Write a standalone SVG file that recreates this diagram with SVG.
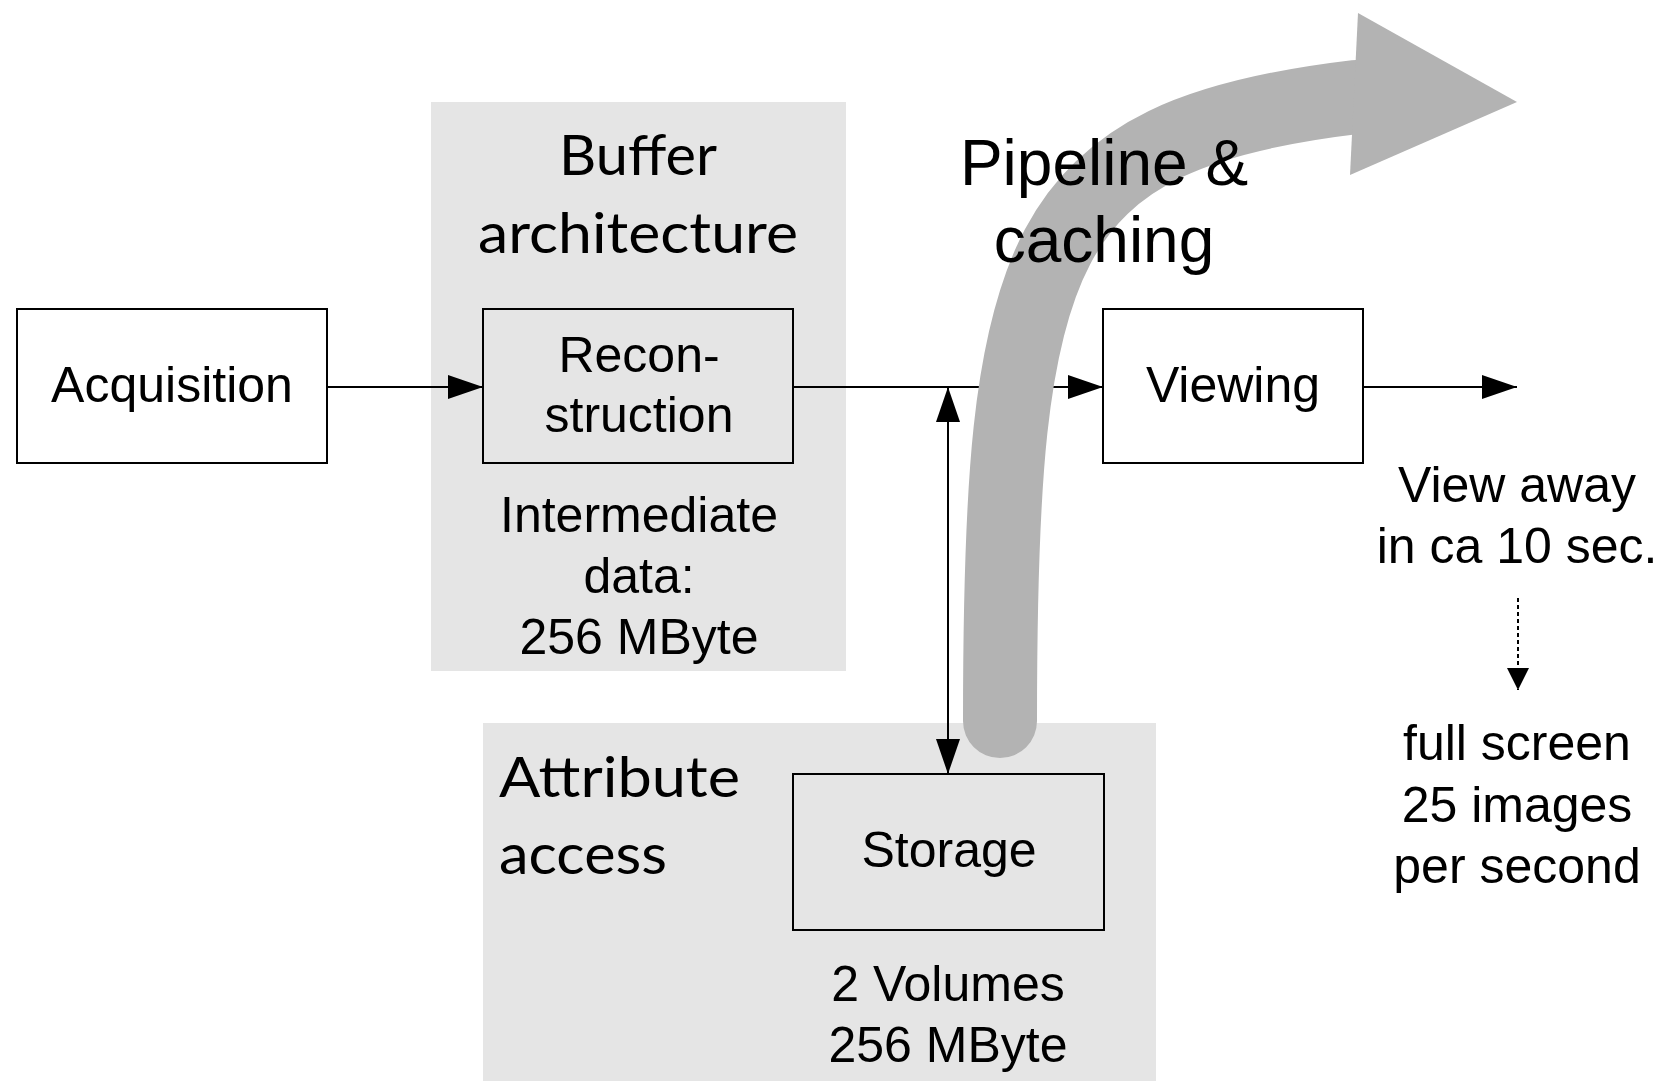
<svg xmlns="http://www.w3.org/2000/svg" width="1664" height="1081" viewBox="0 0 1664 1081">
  <defs>
    <style>
      .bg { fill: #e5e5e5; stroke: none; }
      .box { fill: #ffffff; stroke: #000000; stroke-width: 2; }
      .boxg { fill: #e5e5e5; stroke: #000000; stroke-width: 2; }
      .t { font-family: "Liberation Sans", Arial, sans-serif; font-size: 50px; fill: #000000; text-anchor: middle; }
      .c { font-family: Lato, "Open Sans", sans-serif; font-size: 56px; fill: #000000; }
      .big { font-family: "Liberation Sans", Arial, sans-serif; font-size: 64px; fill: #000000; text-anchor: middle; }
      .conn { stroke: #000000; stroke-width: 2; fill: none; }
    </style>
    <marker id="ah" markerUnits="userSpaceOnUse" markerWidth="36" markerHeight="26" refX="35" refY="12" orient="auto-start-reverse" viewBox="0 0 36 24">
      <path d="M0,0 L35,12 L0,24 Z" fill="#000000"/>
    </marker>
    <marker id="ahs" markerUnits="userSpaceOnUse" markerWidth="24" markerHeight="24" refX="22" refY="11" orient="auto" viewBox="0 0 24 22">
      <path d="M0,0 L22,11 L0,22 Z" fill="#000000"/>
    </marker>
  </defs>

  <g id="buffer-architecture">
    <rect class="bg" x="431" y="102" width="415" height="569"/>
    <text class="c" x="638" y="175" text-anchor="middle" textLength="158" lengthAdjust="spacingAndGlyphs">Buffer</text>
    <text class="c" x="638" y="253" text-anchor="middle" textLength="320" lengthAdjust="spacingAndGlyphs">architecture</text>
  </g>

  <g id="attribute-access">
    <rect class="bg" x="483" y="723" width="673" height="358"/>
    <text class="c" x="499" y="797" textLength="241" lengthAdjust="spacingAndGlyphs">Attribute</text>
    <text class="c" x="499" y="874" textLength="168" lengthAdjust="spacingAndGlyphs">access</text>
  </g>

  <g id="acquisition">
    <rect class="box" x="17" y="309" width="310" height="154"/>
    <text class="t" x="172" y="402">Acquisition</text>
  </g>

  <g id="reconstruction">
    <rect class="boxg" x="483" y="309" width="310" height="154"/>
    <text class="t" x="639" y="372">Recon-</text>
    <text class="t" x="639" y="432">struction</text>
  </g>

  <g id="intermediate-data">
    <text class="t" x="639" y="532">Intermediate</text>
    <text class="t" x="639" y="593">data:</text>
    <text class="t" x="639" y="654">256 MByte</text>
  </g>

  <g id="viewing">
    <rect class="box" x="1103" y="309" width="260" height="154"/>
    <text class="t" x="1233" y="402">Viewing</text>
  </g>

  <g id="storage">
    <rect class="boxg" x="793" y="774" width="311" height="156"/>
    <text class="t" x="949" y="867">Storage</text>
    <text class="t" x="948" y="1001">2 Volumes</text>
    <text class="t" x="948" y="1062">256 MByte</text>
  </g>

  <g id="view-away">
    <text class="t" x="1517" y="502">View away</text>
    <text class="t" x="1517" y="563">in ca 10 sec.</text>
  </g>

  <g id="full-screen">
    <text class="t" x="1517" y="760">full screen</text>
    <text class="t" x="1517" y="822">25 images</text>
    <text class="t" x="1517" y="883">per second</text>
  </g>

  <g id="connectors">
    <path class="conn" d="M328,387 L483,387" marker-end="url(#ah)"/>
    <path class="conn" d="M793,387 L1103,387" marker-end="url(#ah)"/>
    <path class="conn" d="M1363,387 L1517,387" marker-end="url(#ah)"/>
    <path class="conn" d="M948,387 L948,774" marker-start="url(#ah)" marker-end="url(#ah)"/>
    <path class="conn" d="M1518,598 L1518,690" stroke-dasharray="4 3" marker-end="url(#ahs)"/>
  </g>

  <g id="pipeline-caching">
    <path d="M1000,721 C1000,250 1035,135 1356,97" fill="none" stroke="#b3b3b3" stroke-width="74" stroke-linecap="round"/>
    <polygon points="1358,13 1517,102 1350,175" fill="#b3b3b3"/>
    <text class="big" x="1104" y="185">Pipeline &amp;</text>
    <text class="big" x="1104" y="262">caching</text>
  </g>
</svg>
